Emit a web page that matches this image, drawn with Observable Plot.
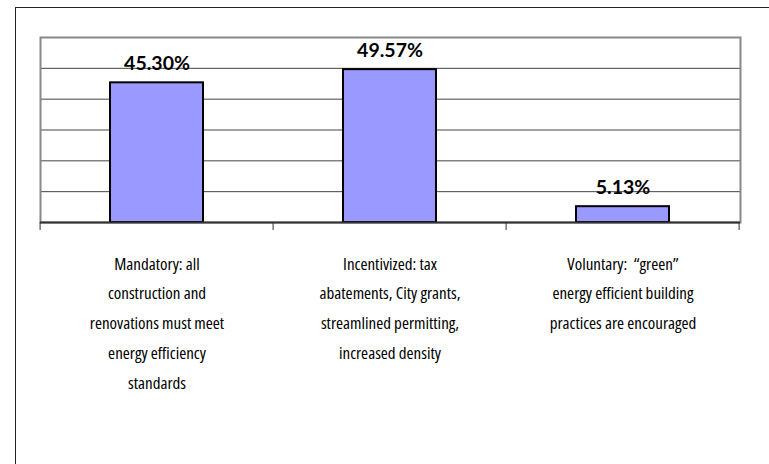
<!DOCTYPE html>
<html><head><meta charset="utf-8">
<script src="https://cdn.jsdelivr.net/npm/d3@7"></script>
<script src="https://cdn.jsdelivr.net/npm/@observablehq/plot@0.6"></script>
<style>
html,body{margin:0;padding:0;background:#fff;}
#wrap{position:relative;width:769px;height:464px;overflow:hidden;}
#outer{position:absolute;left:15px;top:7px;width:820px;height:520px;border-left:1.5px solid #222;border-top:1.5px solid #222;pointer-events:none;}
#wrap svg{font-stretch:76%;}
</style></head><body>
<div id="wrap"><div id="outer"></div></div>
<script>
const categories = [
  "Mandatory: all\nconstruction and\nrenovations must meet\nenergy efficiency\nstandards",
  "Incentivized: tax\nabatements, City grants,\nstreamlined permitting,\nincreased density",
  "Voluntary:\u00a0 \u201cgreen\u201d\nenergy efficient building\npractices are encouraged"
];
const values = [45.30, 49.57, 5.13];
const valueLabels = ["45.30%", "49.57%", "5.13%"];
const yGrid = [10, 20, 30, 40, 50];
const yMax = 60;

const data = categories.map((c, i) => ({category: c, value: values[i], label: valueLabels[i]}));

const padInner = 0.6, padOuter = 0.3;

function boundaryTicks(index, scales, values, dims) {
  const x = scales.x, y = scales.y;
  const starts = categories.map(c => x(c));
  const step = starts[1] - starts[0];
  const bounds = starts.map(s => s - step * padOuter);
  bounds.push(starts[starts.length - 1] + step * (1 - padOuter));
  const y0 = y(0);
  const g = d3.create("svg:g");
  g.selectAll("line").data(bounds).join("line")
    .attr("x1", d => d).attr("x2", d => d)
    .attr("y1", y0).attr("y2", y0 + 8)
    .attr("stroke", "#333").attr("stroke-width", 1);
  return g.node();
}

const chart = Plot.plot({
  width: 769, height: 464,
  marginLeft: 40, marginRight: 29, marginTop: 37, marginBottom: 242,
  x: {domain: categories, paddingInner: padInner, paddingOuter: padOuter, axis: null},
  y: {domain: [0, yMax], axis: null},
  style: {fontFamily: "'Open Sans', sans-serif", background: "transparent", color: "#000"},
  marks: [
    Plot.ruleY(yGrid, {stroke: "#444", strokeWidth: 1}),
    Plot.frame({stroke: "#888", strokeWidth: 2}),
    Plot.barY(data, {x: "category", y: "value", fill: "#9999FF", stroke: "#000", strokeWidth: 2}),
    Plot.ruleY([0], {stroke: "#333", strokeWidth: 2}),
    boundaryTicks,
    Plot.text(data, {x: "category", y: "value", text: "label", dy: -13, lineAnchor: "bottom",
      fontFamily: "Lato, sans-serif", fontWeight: "bold", fontSize: 19.5, fill: "#000"}),
    Plot.text(data, {x: "category", text: "category", frameAnchor: "bottom", lineAnchor: "top",
      dy: 26, fontSize: 17, fontWeight: 500, lineHeight: 1.75, fill: "#000"})
  ]
});
document.getElementById("wrap").prepend(chart);
</script>
</body></html>
